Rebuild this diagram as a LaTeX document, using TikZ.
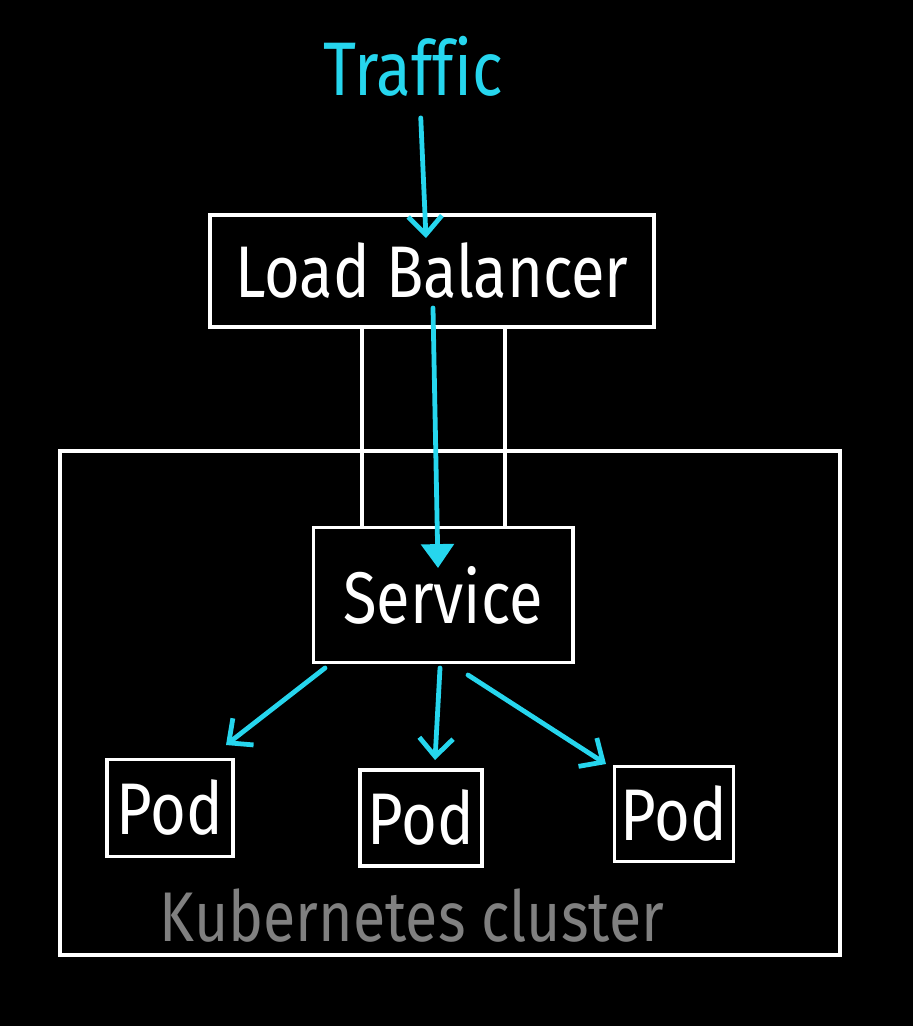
\documentclass[tikz,border=0pt]{standalone}
\usepackage{fontspec}
\setmainfont{Fira Sans}[FakeStretch=0.84, Ligatures=NoCommon]
\usetikzlibrary{arrows.meta}
\definecolor{flowcyan}{RGB}{38,214,238}
\definecolor{labelgray}{RGB}{128,128,128}

\tikzset{
  box/.style={draw=white, line width=2.8pt, text=white, inner sep=0pt,
    font=\fontsize{52}{60}\selectfont},
  wire/.style={draw=white, line width=2.6pt},
  flow/.style={draw=flowcyan, line width=3.4pt, line cap=round,
    -{Straight Barb[length=13pt,width=24pt,line width=3.4pt]}},
  push/.style={draw=flowcyan, line width=3.4pt, line cap=round,
    -{Triangle[length=17pt,width=23pt]}},
}

\begin{document}
\begin{tikzpicture}[x=0.025cm, y=-0.025cm]
    \fill[black] (0,0) rectangle (913,1026);
    \useasboundingbox (0,0) rectangle (913,1026);

    \node (traffic) at (413,66) [text=flowcyan, font=\fontsize{54}{60}\selectfont] {Traffic};
    \node (lb) at (432,271) [box, minimum width=11.1cm, minimum height=2.8cm] {Load Balancer};
    \node (cluster) at (450,703) [draw=white, line width=2.6pt, minimum width=19.5cm, minimum height=12.6cm] {};
    \node (svc) at (443,595) [box, minimum width=6.475cm, minimum height=3.375cm] {Service};
    \node (pod1) at (170,808) [box, minimum width=3.15cm, minimum height=2.425cm] {Pod};
    \node (pod2) at (421,818) [box, minimum width=3.05cm, minimum height=2.4cm] {Pod};
    \node (pod3) at (674,814) [box, minimum width=2.975cm, minimum height=2.375cm] {Pod};
    \node (kube) at (412,916) [text=labelgray, font=\fontsize{50}{60}\selectfont] {Kubernetes cluster};

    \coordinate (lbin) at (426,238);
    \coordinate (lbout) at (433,308);
    \coordinate (svcin) at (438,568);
    \coordinate (s1) at (325,668);
    \coordinate (s2) at (440,668);
    \coordinate (s3) at (468,675);
    \coordinate (p1) at (226,745);
    \coordinate (p2) at (435,760);
    \coordinate (p3) at (606,764);

    % links between load balancer and service
    \draw[wire] (362,0 |- lb.south) -- (362,0 |- svc.north);
    \draw[wire] (505,0 |- lb.south) -- (505,0 |- svc.north);

    % traffic path
    \draw[flow, shorten <=12pt] ([xshift=5pt]traffic.south) -- (lbin);
    \draw[push] (lbout) -- (svcin);
    \draw[flow] (s1) -- (p1);
    \draw[flow] (s2) -- (p2);
    \draw[flow] (s3) -- (p3);
\end{tikzpicture}
\end{document}
